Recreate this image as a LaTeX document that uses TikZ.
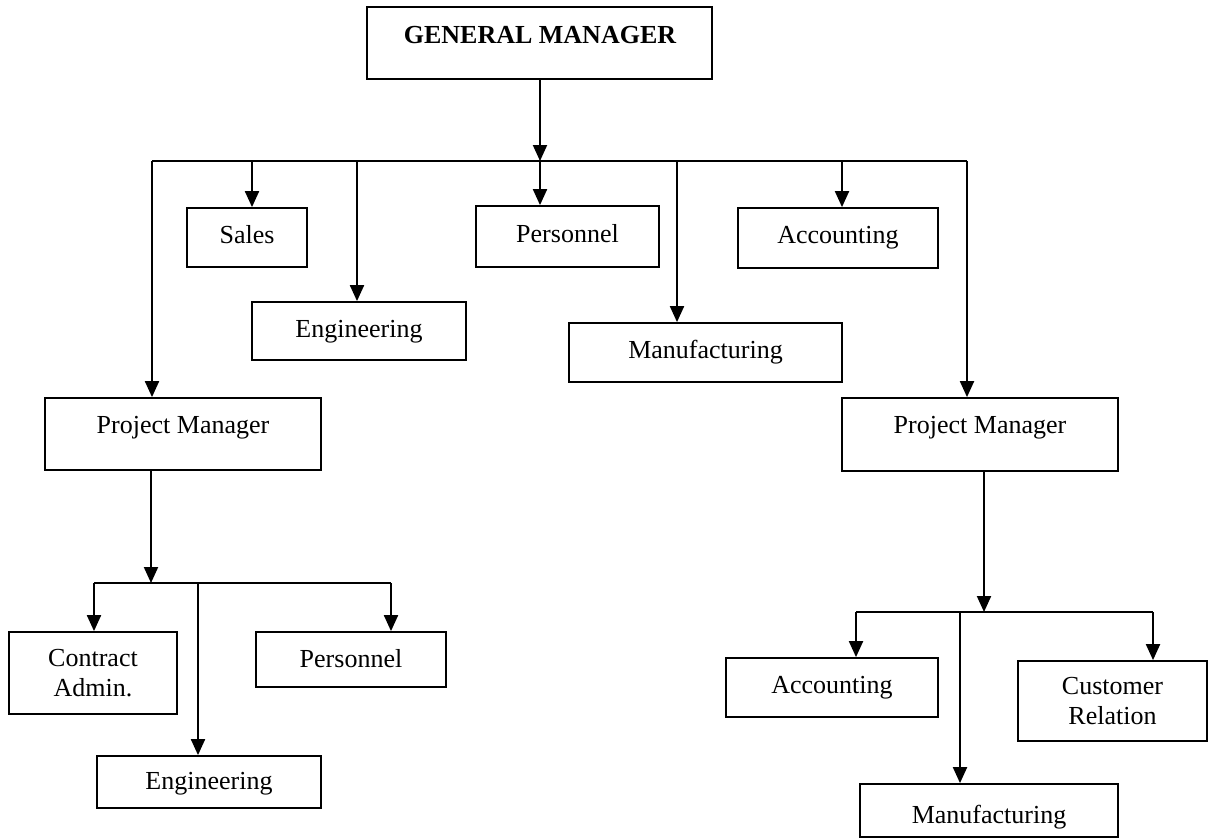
\documentclass[tikz,border=0pt]{standalone}
\usepackage{fontspec}
\setmainfont{Liberation Serif}
\usetikzlibrary{arrows.meta}
\begin{document}
\begin{tikzpicture}[x=0.5pt,y=-0.5pt,
  box/.style 2 args={draw, line width=0.9pt, minimum width=#1*0.5pt,
                     minimum height=#2*0.5pt, inner sep=0pt},
  lbl/.style={font=\fontsize{13}{15}\selectfont, inner sep=0pt, anchor=base},
  lbltwo/.style={font=\fontsize{13}{15}\selectfont, inner sep=0pt, align=center},
  link/.style={line width=1pt},
  bus/.style={line width=0.8pt},
  arr/.style={link, -{Triangle[length=8pt,width=7pt]}}]
\useasboundingbox (0,0) rectangle (1208,837);

% ---- boxes ----
\node[box={345}{72}]  (gm)    at (539.5,43)  {};
\node[box={120}{59}]  (sales) at (247,237.5) {};
\node[box={214}{58}]  (eng1)  at (359,331)   {};
\node[box={183}{61}]  (pers1) at (567.5,236.5) {};
\node[box={273}{59}]  (manu1) at (705.5,352.5) {};
\node[box={200}{60}]  (acc1)  at (838,238)   {};
\node[box={276}{72}]  (pml)   at (183,434)   {};
\node[box={276}{73}]  (pmr)   at (980,434.5) {};
\node[box={168}{82}]  (ca)    at (93,673)    {};
\node[box={190}{55}]  (pers2) at (351,659.5) {};
\node[box={224}{52}]  (eng2)  at (209,782)   {};
\node[box={212}{59}]  (acc2)  at (832,687.5) {};
\node[box={189}{80}]  (cr)    at (1112.5,701) {};
\node[box={258}{53}]  (manu2) at (989,810.5) {};

% ---- labels ----
\node[lbl] (t-gm)    at (540,43)  {\bfseries GENERAL MANAGER};
\node[lbl] (t-sales) at (247,243) {Sales};
\node[lbl] (t-eng1)  at (359,337) {Engineering};
\node[lbl] (t-pers1) at (567.5,242) {Personnel};
\node[lbl] (t-manu1) at (705.5,358) {Manufacturing};
\node[lbl] (t-acc1)  at (838,243) {Accounting};
\node[lbl] (t-pml)   at (183,433) {Project Manager};
\node[lbl] (t-pmr)   at (980,433) {Project Manager};
\node[lbltwo] (t-ca) at (93,673)  {Contract\\Admin.};
\node[lbl] (t-pers2) at (351,667) {Personnel};
\node[lbl] (t-eng2)  at (209,789) {Engineering};
\node[lbl] (t-acc2)  at (832,693) {Accounting};
\node[lbltwo] (t-cr) at (1112.5,701) {Customer\\Relation};
\node[lbl] (t-manu2) at (989,823) {Manufacturing};

% ---- top level distribution ----
\coordinate (b-top)   at (540,161);
\coordinate (b-pml)   at (152,161);
\coordinate (b-sales) at (252,161);
\coordinate (b-eng1)  at (357,161);
\coordinate (b-manu1) at (677,161);
\coordinate (b-acc1)  at (842,161);
\coordinate (b-pmr)   at (967,161);

\draw[arr] (b-top |- gm.south) -- (b-top);
\draw[bus] (b-pml) -- (b-pmr);
\draw[arr] (b-pml)   -- (b-pml |- pml.north);
\draw[arr] (b-sales) -- (b-sales |- sales.north);
\draw[arr] (b-eng1)  -- (b-eng1 |- eng1.north);
\draw[arr] (b-top)   -- (b-top |- pers1.north);
\draw[arr] (b-manu1) -- (b-manu1 |- manu1.north);
\draw[arr] (b-acc1)  -- (b-acc1 |- acc1.north);
\draw[arr] (b-pmr)   -- (b-pmr |- pmr.north);

% ---- left project manager ----
\coordinate (l-top)  at (151,583);
\coordinate (l-ca)   at (94,583);
\coordinate (l-eng)  at (198,583);
\coordinate (l-pers) at (391,583);
\draw[arr] (l-top |- pml.south) -- (l-top);
\draw[bus] (l-ca) -- (l-pers);
\draw[arr] (l-ca)   -- (l-ca |- ca.north);
\draw[arr] (l-eng)  -- (l-eng |- eng2.north);
\draw[arr] (l-pers) -- (l-pers |- pers2.north);

% ---- right project manager ----
\coordinate (r-top)  at (984,612);
\coordinate (r-acc)  at (856,612);
\coordinate (r-manu) at (960,612);
\coordinate (r-cr)   at (1153,612);
\draw[arr] (r-top |- pmr.south) -- (r-top);
\draw[bus] (r-acc) -- (r-cr);
\draw[arr] (r-acc)  -- (r-acc |- acc2.north);
\draw[arr] (r-manu) -- (r-manu |- manu2.north);
\draw[arr] (r-cr)   -- (r-cr |- cr.north);
\end{tikzpicture}
\end{document}
